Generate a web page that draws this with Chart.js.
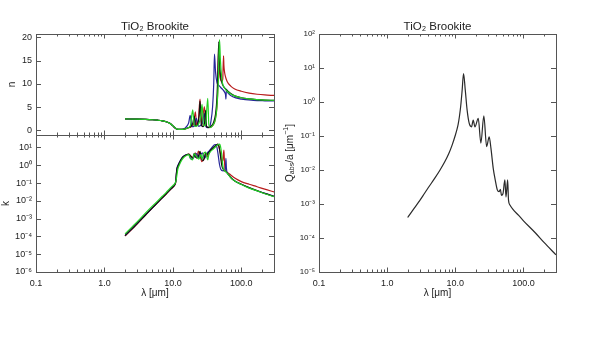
<!DOCTYPE html>
<html>
<head>
<meta charset="utf-8">
<title>TiO2 Brookite optical constants</title>
<script src="https://cdn.jsdelivr.net/npm/chart.js@4.4.1/dist/chart.umd.min.js"></script>
<style>
  html, body { margin: 0; padding: 0; background: #fff; }
  #wrap { position: relative; width: 600px; height: 338px; }
  #wrap canvas { position: absolute; left: 0; top: 0; }
</style>
</head>
<body>
<div id="wrap">
  <canvas id="nChart" width="600" height="338"></canvas>
  <canvas id="kChart" width="600" height="338"></canvas>
  <canvas id="qChart" width="600" height="338"></canvas>
</div>
<script>
// ---- optical constants, wavelength in micron ----
// black: average, red / blue / green: the three crystal axes
const lamBlack = [2, 3, 4, 5, 6, 7, 8, 9, 10, 10.6, 11.0, 11.4, 12, 13, 14, 15, 16, 17, 18.5, 19.5, 20.5, 21.5, 23, 24.2, 24.9, 26, 27.5, 29, 30, 31, 33, 36, 39, 42, 44, 45.5, 46.8, 48, 50, 52, 55, 60, 65, 70, 80, 100, 130, 170, 220, 300];
const nBlack = [2.45, 2.42, 2.36, 2.28, 2.18, 2.05, 1.85, 1.5, 0.95, 0.6, 0.4, 0.3, 0.22, 0.2, 0.22, 0.3, 0.45, 0.6, 0.9, 1.5, 3.0, 0.9, 1.4, 3.2, 6.3, 1.2, 0.8, 1.6, 4.3, 0.9, 0.6, 0.9, 1.6, 3.5, 7.0, 13.0, 19.0, 14.5, 11.5, 10.2, 9.4, 8.8, 8.3, 7.9, 7.4, 7.0, 6.75, 6.6, 6.5, 6.45];
const kBlack = [1.1e-4, 5.2e-4, 1.65e-3, 4.0e-3, 8.1e-3, 0.0148, 0.025, 0.04, 0.06, 0.078, 0.12, 0.55, 1.0, 1.9, 2.9, 3.5, 4.0, 4.2, 3.0, 2.6, 4.6, 2.8, 2.6, 4.5, 6.0, 2.5, 1.8, 2.8, 5.2, 3.8, 5.0, 7.5, 10, 12.5, 14.5, 15.5, 13, 8, 2.5, 0.9, 0.55, 0.42, 0.3, 0.2, 0.13, 0.085, 0.055, 0.038, 0.026, 0.018];

const lamRed = [2, 3, 4, 5, 6, 7, 8, 9, 10, 10.6, 11.0, 11.4, 12, 13, 14, 15, 16, 17, 18.5, 20, 21.3, 22.3, 23.6, 24.9, 26.5, 28.8, 30.6, 32, 34, 38, 42, 45, 46.4, 48, 50, 52, 53.5, 54.9, 55.6, 56.5, 58, 62, 70, 80, 100, 130, 170, 220, 300];
const nRed = [2.45, 2.42, 2.36, 2.28, 2.18, 2.05, 1.85, 1.5, 0.95, 0.6, 0.4, 0.3, 0.22, 0.2, 0.22, 0.3, 0.45, 0.55, 0.8, 1.3, 4.0, 1.0, 2.2, 6.7, 1.0, 5.1, 0.9, 0.7, 0.6, 1.0, 2.8, 8.0, 17.4, 12.5, 10.8, 10.5, 11.0, 16.0, 14.0, 12.8, 11.8, 10.5, 9.5, 8.9, 8.4, 8.0, 7.75, 7.6, 7.5];
const kRed = [1.05e-4, 5.0e-4, 1.6e-3, 3.9e-3, 7.9e-3, 0.0145, 0.024, 0.039, 0.058, 0.075, 0.11, 0.5, 0.95, 1.8, 2.8, 3.4, 3.9, 4.2, 3.2, 2.6, 5.0, 2.5, 6.3, 3.5, 1.6, 2.5, 4.6, 3.0, 5.5, 8.5, 12, 15, 13, 8, 4, 1.6, 1.8, 4.5, 7.0, 2.0, 0.55, 0.4, 0.28, 0.19, 0.12, 0.085, 0.062, 0.045, 0.032];

const lamBlue = [2, 3, 4, 5, 6, 7, 8, 9, 10, 10.6, 11.0, 11.4, 12, 13, 14, 15, 16, 17, 17.9, 19, 20.5, 22, 23.5, 25, 27, 28.9, 30.5, 32, 34, 36, 38, 39.5, 40.5, 42, 44, 46, 48, 50, 54, 57, 58.8, 59.5, 60.5, 62, 65, 75, 100, 150, 220, 300];
const nBlue = [2.45, 2.42, 2.36, 2.28, 2.18, 2.05, 1.85, 1.5, 0.95, 0.6, 0.4, 0.3, 0.22, 0.2, 0.25, 0.45, 0.9, 1.6, 3.2, 0.8, 0.9, 2.6, 0.9, 1.0, 1.6, 3.6, 0.8, 0.6, 0.7, 2.0, 5.0, 10.0, 16.4, 12.5, 10.3, 9.8, 9.5, 9.2, 8.7, 8.2, 7.6, 6.7, 8.8, 8.4, 7.9, 7.2, 6.7, 6.45, 6.35, 6.3];
const kBlue = [1.1e-4, 5.3e-4, 1.7e-3, 4.1e-3, 8.3e-3, 0.015, 0.026, 0.041, 0.062, 0.08, 0.125, 0.6, 1.1, 2.0, 3.0, 3.6, 4.0, 4.0, 2.6, 2.2, 3.0, 4.5, 2.8, 3.6, 5.0, 2.4, 3.5, 5.0, 6.5, 8.5, 11, 13, 14, 14.5, 10, 3.5, 1.1, 0.6, 0.48, 0.5, 0.9, 2.4, 0.7, 0.38, 0.3, 0.16, 0.085, 0.043, 0.026, 0.018];

const lamGreen = [2, 3, 4, 5, 6, 7, 8, 9, 10, 10.6, 11.0, 11.4, 11.8, 12.5, 13.5, 14.5, 16, 17, 18, 19.5, 20.5, 22, 24, 25.5, 26.7, 28, 30, 32.3, 33.5, 35, 38, 42, 44, 46, 48, 49.5, 51.5, 53, 54.5, 57, 62, 70, 80, 100, 130, 170, 220, 300];
const nGreen = [2.45, 2.42, 2.36, 2.28, 2.18, 2.05, 1.85, 1.5, 1.0, 0.65, 0.45, 0.32, 0.25, 0.2, 0.2, 0.25, 0.4, 0.6, 1.0, 4.4, 1.0, 0.9, 1.5, 3.0, 5.6, 1.0, 1.2, 6.9, 1.2, 0.6, 1.0, 2.5, 5.0, 10.0, 19.5, 15.0, 11.5, 10.2, 9.6, 9.1, 8.4, 7.8, 7.4, 7.0, 6.75, 6.6, 6.5, 6.45];
const kGreen = [1.4e-4, 6.6e-4, 2.1e-3, 5.0e-3, 0.01, 0.018, 0.03, 0.048, 0.072, 0.09, 0.12, 0.25, 0.6, 1.1, 2.0, 2.8, 3.6, 4.0, 2.4, 2.0, 4.5, 3.2, 2.2, 4.0, 2.2, 4.5, 5.5, 2.0, 4.0, 5.5, 7.5, 11, 13, 14.5, 15.5, 12, 4.5, 1.4, 0.65, 0.5, 0.36, 0.2, 0.13, 0.082, 0.052, 0.036, 0.025, 0.017];

// absorption efficiency over grain radius
const lamQ = [2, 2.5, 3, 3.5, 4, 5, 6, 7, 8, 9, 10, 10.5, 11.0, 11.5, 12.0, 12.6, 13.2, 14.0, 14.9, 16.0, 17.3, 18.3, 19.4, 21.7, 23.7, 26.2, 28.8, 31.4, 33.3, 36.0, 38.5, 41.3, 43.8, 45.9, 47.5, 50.0, 53.3, 55.4, 58.6, 60.3, 63.3, 70.1, 85, 100, 150, 200, 300];
const qAbs = [4.0e-4, 7.6e-4, 1.26e-3, 2.0e-3, 3.0e-3, 5.75e-3, 0.0102, 0.0174, 0.030, 0.055, 0.105, 0.148, 0.219, 0.38, 0.76, 2.24, 6.9, 2.24, 0.575, 0.234, 0.186, 0.295, 0.186, 0.33, 0.062, 0.39, 0.049, 0.095, 0.044, 0.0112, 5.1e-3, 2.6e-3, 2.3e-3, 2.7e-3, 1.8e-3, 2.0e-3, 5.1e-3, 1.6e-3, 5.1e-3, 1.3e-3, 9.3e-4, 6.9e-4, 4.6e-4, 3.2e-4, 1.4e-4, 7.4e-5, 3.2e-5];

// ---- axis ticks ----
const xTickValues = [0.1, 1, 10, 100];
const xTickLabels = ['0.1', '1.0', '10.0', '100.0'];
const nTickValues = [0, 5, 10, 15, 20];
const kTickValues = [10, 1, 0.1, 0.01, 1e-3, 1e-4, 1e-5, 1e-6];
const kTickLabels = ['10¹', '10⁰', '10⁻¹', '10⁻²', '10⁻³', '10⁻⁴', '10⁻⁵', '10⁻⁶'];
const qTickValues = [100, 10, 1, 0.1, 0.01, 1e-3, 1e-4, 1e-5];
const qTickLabels = ['10²', '10¹', '10⁰', '10⁻¹', '10⁻²', '10⁻³', '10⁻⁴', '10⁻⁵'];

const FONT = "'Liberation Sans', Arial, Helvetica, sans-serif";
const TEXT = '#222';
const RED = '#b81c1c', BLUE = '#26269a', GREEN = '#22d022', BLACK = '#111';

Chart.defaults.font.family = FONT;
Chart.defaults.color = TEXT;
Chart.defaults.animation = false;

const toPoints = (xs, ys) => xs.map((x, i) => ({ x: x, y: ys[i] }));

function line(xs, ys, color, order) {
  return {
    data: toPoints(xs, ys),
    borderColor: color,
    borderWidth: 1.2,
    pointRadius: 0,
    cubicInterpolationMode: 'monotone',
    fill: false,
    order: order
  };
}

// closed box with IDL style tick marks pointing inward on all four sides
const framePlugin = {
  id: 'frame',
  afterDraw(chart, args, opts) {
    const { ctx, chartArea: a, scales } = chart;
    const sx = scales.x, sy = scales.y;
    const px = v => Math.round(v) + 0.5;
    ctx.save();
    ctx.strokeStyle = '#555';
    ctx.lineWidth = 1;
    ctx.beginPath();
    // x ticks, major on decades, minor on 2..9
    for (let d = -1; d <= 2; d++) {
      for (let m = 1; m <= 9; m++) {
        const v = m * Math.pow(10, d);
        if (v < sx.min || v > sx.max) continue;
        const len = m === 1 ? 4.5 : 2.5;
        const x = px(sx.getPixelForValue(v));
        ctx.moveTo(x, a.bottom); ctx.lineTo(x, a.bottom - len);
        ctx.moveTo(x, a.top); ctx.lineTo(x, a.top + len);
      }
    }
    // y ticks on both sides
    opts.yTicks.forEach(v => {
      const y = px(sy.getPixelForValue(v));
      ctx.moveTo(a.left, y); ctx.lineTo(a.left + 5, y);
      ctx.moveTo(a.right, y); ctx.lineTo(a.right - 5, y);
    });
    ctx.stroke();
    ctx.strokeRect(px(a.left), px(a.top), Math.round(a.right - a.left), Math.round(a.bottom - a.top));
    ctx.restore();
  }
};

// rotated y title for the right panel, with sub- and superscripts
const qTitlePlugin = {
  id: 'qTitle',
  afterDraw(chart) {
    const { ctx, chartArea: a } = chart;
    const parts = [
      { t: 'Q', size: 10, dy: 0 },
      { t: 'abs', size: 7, dy: 2.5 },
      { t: '/a [μm', size: 10, dy: 0 },
      { t: '−1', size: 7, dy: -3.5 },
      { t: ']', size: 10, dy: 0 }
    ];
    ctx.save();
    ctx.translate(a.left - 29, (a.top + a.bottom) / 2);
    ctx.rotate(-Math.PI / 2);
    ctx.fillStyle = TEXT;
    ctx.textBaseline = 'middle';
    let total = 0;
    parts.forEach(p => {
      ctx.font = p.size + 'px ' + FONT;
      p.w = ctx.measureText(p.t).width;
      total += p.w;
    });
    let x = -total / 2;
    parts.forEach(p => {
      ctx.font = p.size + 'px ' + FONT;
      ctx.fillText(p.t, x, p.dy);
      x += p.w;
    });
    ctx.restore();
  }
};

const panelTitle = {
  display: true,
  text: 'TiO₂ Brookite',
  fullSize: false,
  font: { size: 11.5, weight: 'normal' },
  color: TEXT,
  padding: { top: 19.5, bottom: 0.7 }
};

function logX(showLabels) {
  return {
    type: 'logarithmic',
    min: 0.1,
    max: 300,
    display: showLabels,
    afterBuildTicks: s => { s.ticks = xTickValues.map(v => ({ value: v })); },
    afterFit: s => { s.height = showLabels ? 27 : 0; },
    grid: { display: false, drawTicks: false },
    border: { display: false },
    ticks: {
      autoSkip: false,
      maxRotation: 0,
      padding: 6,
      font: { size: 9 },
      callback: (v, i) => xTickLabels[i]
    },
    title: { display: true, text: 'λ [μm]', font: { size: 10 }, padding: { top: 0, bottom: 0 } }
  };
}

const noTips = { legend: { display: false }, tooltip: { enabled: false } };

// ---- refractive index n ----
new Chart(document.getElementById('nChart'), {
  type: 'line',
  data: {
    datasets: [
      line(lamGreen, nGreen, GREEN, 0),
      line(lamBlack, nBlack, BLACK, 1),
      line(lamBlue, nBlue, BLUE, 2),
      line(lamRed, nRed, RED, 3)
    ]
  },
  options: {
    responsive: false,
    layout: { padding: { left: 0, right: 326, top: 0, bottom: 203 } },
    plugins: { ...noTips, title: panelTitle, frame: { yTicks: nTickValues } },
    scales: {
      x: logX(false),
      y: {
        type: 'linear',
        min: -1,
        max: 20.7,
        afterBuildTicks: s => { s.ticks = nTickValues.map(v => ({ value: v })); },
        afterFit: s => { s.width = 36; },
        grid: { display: false, drawTicks: false },
        border: { display: false },
        ticks: { padding: 4, font: { size: 9 }, callback: v => String(v) },
        title: { display: true, text: 'n', font: { size: 10 }, padding: { top: 6, bottom: 0 } }
      }
    }
  },
  plugins: [framePlugin]
});

// ---- absorption index k ----
new Chart(document.getElementById('kChart'), {
  type: 'line',
  data: {
    datasets: [
      line(lamGreen, kGreen, GREEN, 0),
      line(lamBlack, kBlack, BLACK, 1),
      line(lamBlue, kBlue, BLUE, 2),
      line(lamRed, kRed, RED, 3)
    ]
  },
  options: {
    responsive: false,
    layout: { padding: { left: 0, right: 326, top: 135, bottom: 39 } },
    plugins: { ...noTips, frame: { yTicks: kTickValues } },
    scales: {
      x: logX(true),
      y: {
        type: 'logarithmic',
        min: 1e-6,
        max: 50,
        afterBuildTicks: s => { s.ticks = kTickValues.map(v => ({ value: v })); },
        afterFit: s => { s.width = 36; },
        grid: { display: false, drawTicks: false },
        border: { display: false },
        ticks: { padding: 4, font: { size: 9 }, callback: (v, i) => kTickLabels[i] },
        title: { display: true, text: 'k', font: { size: 10 }, padding: { top: 0, bottom: 0 } }
      }
    }
  },
  plugins: [framePlugin]
});

// ---- Q_abs / a ----
new Chart(document.getElementById('qChart'), {
  type: 'line',
  data: {
    datasets: [line(lamQ, qAbs, '#2a2a2a', 0)]
  },
  options: {
    responsive: false,
    layout: { padding: { left: 279, right: 44, top: 0, bottom: 39 } },
    plugins: { ...noTips, title: panelTitle, frame: { yTicks: qTickValues } },
    scales: {
      x: logX(true),
      y: {
        type: 'logarithmic',
        min: 1e-5,
        max: 100,
        afterBuildTicks: s => { s.ticks = qTickValues.map(v => ({ value: v })); },
        afterFit: s => { s.width = 40; },
        grid: { display: false, drawTicks: false },
        border: { display: false },
        ticks: { padding: 4, font: { size: 8 }, callback: (v, i) => qTickLabels[i] },
        title: { display: false }
      }
    }
  },
  plugins: [framePlugin, qTitlePlugin]
});
</script>
</body>
</html>
